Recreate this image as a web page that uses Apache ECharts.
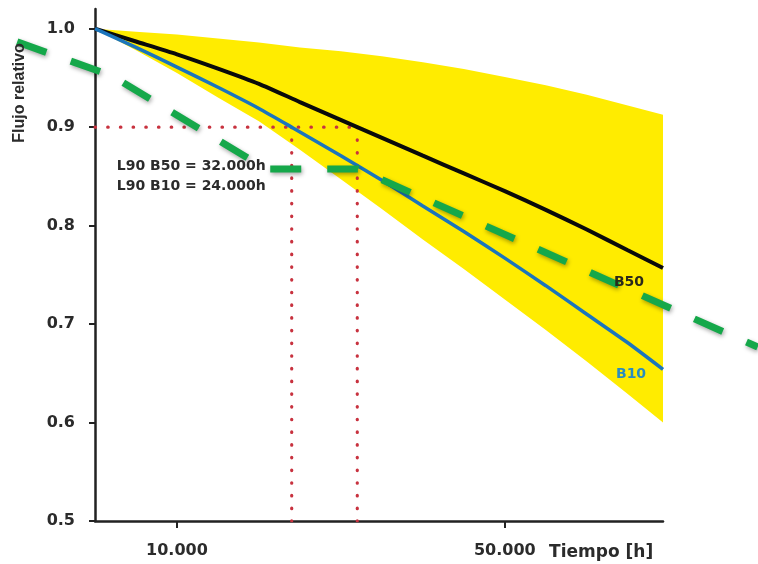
<!DOCTYPE html>
<html><head><meta charset="utf-8">
<script src="https://cdn.jsdelivr.net/npm/echarts@6/dist/echarts.min.js"></script>
<style>html,body{margin:0;padding:0;background:#fff}#c{width:758px;height:564px}</style>
</head><body><div id="c"></div>
<script>
// ---- data ----
const bandHours = [0,5000,10000,15000,20000,25000,30000,35000,40000,45000,50000,55000,60000,65000,69300];
const bandUpper = [1.0,0.997,0.994,0.990,0.986,0.981,0.977,0.972,0.966,0.959,0.951,0.9425,0.933,0.922,0.9125];
const bandLower = [1.0,0.978,0.955,0.930,0.906,0.877,0.847,0.817,0.786,0.756,0.725,0.694,0.662,0.629,0.600];

const b10Hours = [0,5000,10000,15000,20000,24000,30000,35000,40000,45000,50000,55000,60000,65000,69300];
const b10Flux  = [1.0,0.981,0.961,0.9405,0.919,0.900,0.871,0.846,0.820,0.794,0.767,0.739,0.710,0.681,0.654];

const b50Hours = [0,5000,10000,15000,20000,25000,32000,40000,45000,50000,55000,60000,65000,69300];
const b50Flux  = [1.0,0.987,0.974,0.9595,0.944,0.9255,0.900,0.871,0.853,0.835,0.816,0.796,0.775,0.757];

const l90Level = 0.9;
const l90B10Hours = 24000;
const l90B50Hours = 32000;

const greenHours = [-9500,2100,20850,32070,80850];
const greenFlux  = [0.9866,0.952,0.8575,0.8575,0.6767];

const xTickValues = [10000,50000];
const xTickLabels = ['10.000','50.000'];
const yTickValues = [0.5,0.6,0.7,0.8,0.9,1.0];

const xMin = 0, xMax = 69300, yMin = 0.5, yMax = 1.02;

// ---- chart ----
const pairs = (xs, ys) => xs.map((x,i)=>[x, ys[i]]);
const axisColor = '#222';
const txt = '#2b2b2b';
const labelFont = {fontFamily:'DejaVu Sans', fontWeight:'bold', fontSize:16, color:txt};
const redDots = {color:'#c8323f',width:3.2,type:[0.5,12.2],cap:'round'};

const option = {
  animation:false,
  grid:{left:95,right:95,top:9,bottom:43,containLabel:false},
  xAxis:{type:'value',min:xMin,max:xMax,
    axisLine:{onZero:false,lineStyle:{color:axisColor,width:2.5}},
    axisTick:{customValues:xTickValues,length:7,lineStyle:{color:axisColor,width:2}},
    axisLabel:Object.assign({customValues:xTickValues,margin:22,
      formatter:v=>xTickLabels[xTickValues.indexOf(v)]},labelFont),
    splitLine:{show:false}},
  yAxis:{type:'value',min:yMin,max:yMax,
    axisLine:{onZero:false,lineStyle:{color:axisColor,width:2.5}},
    axisTick:{customValues:yTickValues,length:6,lineStyle:{color:axisColor,width:2}},
    axisLabel:Object.assign({customValues:yTickValues,margin:20,
      formatter:v=>v.toFixed(1)},labelFont),
    splitLine:{show:false}},
  series:[
    {type:'custom',name:'band',z:1,
      data:bandHours.map((h,i)=>[h,bandUpper[i],bandLower[i]]),
      encode:{x:0,y:[1,2]},
      renderItem:function(params,api){
        if(params.dataIndex!==0) return null;
        const pts=[];
        for(let i=0;i<bandHours.length;i++) pts.push(api.coord([bandHours[i],bandUpper[i]]));
        for(let i=bandHours.length-1;i>=0;i--) pts.push(api.coord([bandHours[i],bandLower[i]]));
        return {type:'polygon',shape:{points:pts},style:{fill:'#ffec00'}};
      }},
    {type:'line',name:'h90',data:[[xMin,l90Level],[l90B50Hours,l90Level]],showSymbol:false,
      lineStyle:redDots,z:3},
    {type:'line',name:'v10',data:[[l90B10Hours,l90Level],[l90B10Hours,yMin]],showSymbol:false,
      lineStyle:redDots,z:3},
    {type:'line',name:'v50',data:[[l90B50Hours,l90Level],[l90B50Hours,yMin]],showSymbol:false,
      lineStyle:redDots,z:3},
    {type:'line',name:'B50',data:pairs(b50Hours,b50Flux),showSymbol:false,smooth:0.2,
      lineStyle:{color:'#0a0a0a',width:4},z:4},
    {type:'line',name:'B10',data:pairs(b10Hours,b10Flux),showSymbol:false,smooth:0.2,
      lineStyle:{color:'#1b75bc',width:3.5},z:4},
    {type:'custom',name:'green',z:10,clip:false,
      data:pairs(greenHours,greenFlux),
      encode:{x:0,y:1},
      renderItem:function(params,api){
        if(params.dataIndex!==0) return null;
        const pts=greenHours.map((h,i)=>api.coord([h,greenFlux[i]]));
        return {type:'polyline',shape:{points:pts},
          style:{stroke:'#15a84a',lineWidth:7,lineDash:[31,26],fill:null,
            shadowColor:'rgba(0,0,0,0.35)',shadowBlur:4,shadowOffsetX:1,shadowOffsetY:2}};
      }}
  ]
};

const chart = echarts.init(document.getElementById('c'));
chart.setOption(option);
const px = (x,y)=>chart.convertToPixel({gridIndex:0},[x,y]);

function textEl(pos, text, o){
  return Object.assign({type:'text',x:pos[0],y:pos[1],z:20,
    style:Object.assign({text:text,fill:txt,fontFamily:'DejaVu Sans',fontWeight:'bold',
      fontSize:14,align:'left',verticalAlign:'middle'},o.style||{})}, o.el||{});
}
const pA1 = px(2650,0.860), pA2 = px(2650,0.840);
const pB50 = px(65150,0.742), pB10 = px(65400,0.6485);
const pT = px(55400,0.4675);
const pY = px(-9150,0.9348);
chart.setOption({graphic:[
  textEl(pA1,'L90 B50 = 32.000h',{}),
  textEl(pA2,'L90 B10 = 24.000h',{}),
  textEl(pB50,'B50',{style:{align:'center',fontSize:14,fill:'#2a2a1a'}}),
  textEl(pB10,'B10',{style:{align:'center',fontSize:14,fill:'#2a8dbf'}}),
  textEl(pT,'Tiempo [h]',{style:{fontSize:17}}),
  textEl(pY,'Flujo relativo',{style:{align:'center',fontFamily:'Liberation Sans',fontSize:16},
    el:{rotation:Math.PI/2}})
]});
</script>
</body></html>
